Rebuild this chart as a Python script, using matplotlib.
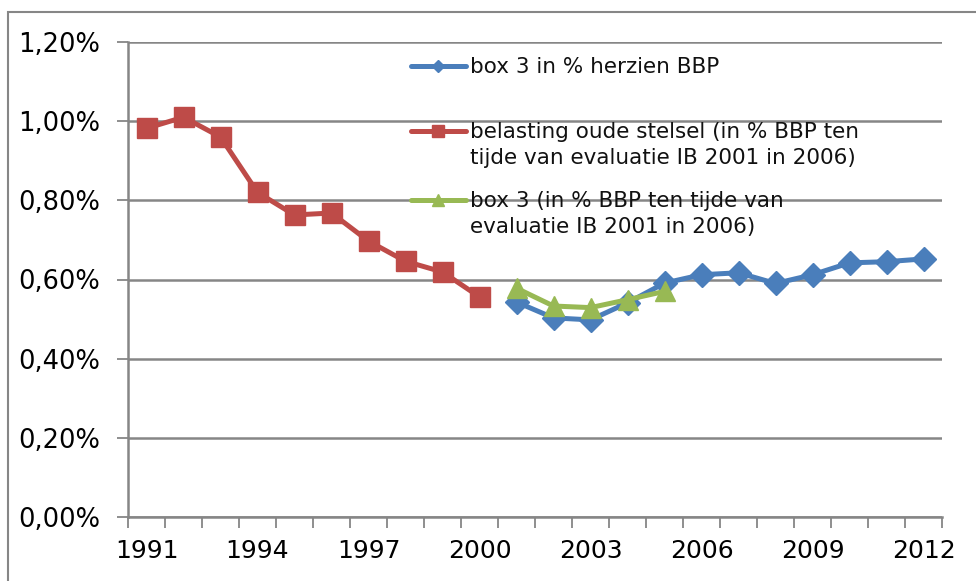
import numpy as np
import matplotlib
matplotlib.use("Agg")
import matplotlib.pyplot as plt
from matplotlib.lines import Line2D
from matplotlib.patches import Rectangle
from matplotlib.ticker import FuncFormatter

# jaren (categorie-as)
years = list(range(1991, 2013))
# belasting oude stelsel, 1991-2000 (in %)
oud_jaren = list(range(1991, 2001))
oud_stelsel = [0.982, 1.010, 0.960, 0.820, 0.763, 0.768, 0.697, 0.646, 0.619, 0.556]
# box 3 in % herzien BBP, 2001-2012
herzien_jaren = list(range(2001, 2013))
box3_herzien = [0.543, 0.503, 0.498, 0.541, 0.591, 0.612, 0.617, 0.590, 0.612, 0.642, 0.645, 0.652]
# box 3 (BBP ten tijde van evaluatie), 2001-2005
eval_jaren = list(range(2001, 2006))
box3_eval = [0.578, 0.533, 0.529, 0.549, 0.570]

labels = ['box 3 in % herzien BBP',
          'belasting oude stelsel (in % BBP ten\ntijde van evaluatie IB 2001 in 2006)',
          'box 3 (in % BBP ten tijde van\nevaluatie IB 2001 in 2006)']

blauw = '#4A7EBB'
rood = '#BE4B48'
groen = '#98B954'
grijs = '#868686'

plt.rcParams['font.family'] = ['DejaVu Sans']

fig = plt.figure(figsize=(9.76, 5.81), dpi=100)
ax = fig.add_axes([128 / 976, 1 - 517 / 581, (942 - 128) / 976, (517 - 42) / 581])

# rand om de grafiek
fig.patches.append(Rectangle((8 / 976, -0.1), 1.2, 1 - 12 / 581 + 0.1, transform=fig.transFigure,
                             fill=False, edgecolor=grijs, linewidth=1.5))

pos = {j: i for i, j in enumerate(years)}
ax.plot([pos[j] for j in oud_jaren], oud_stelsel, color=rood, lw=3.6,
        marker='s', markersize=15, zorder=3)
ax.plot([pos[j] for j in herzien_jaren], box3_herzien, color=blauw, lw=3.6,
        marker='D', markersize=12, zorder=3)
ax.plot([pos[j] for j in eval_jaren], box3_eval, color=groen, lw=3.6,
        marker='^', markersize=15, zorder=4)

ax.set_xlim(-0.5, len(years) - 0.5)
ax.set_ylim(0, 1.2)
ax.set_yticks(np.arange(0, 1.21, 0.2))
ax.yaxis.set_major_formatter(FuncFormatter(lambda v, p: ('%.2f%%' % v).replace('.', ',')))
ax.grid(True, axis='y', color=grijs, linewidth=1.8)
ax.set_axisbelow(True)

# tick-streepjes tussen de categorieen, labels elke 3 jaar
ax.set_xticks(np.arange(-0.5, len(years), 1.0))
ax.set_xticklabels([])
ax.set_xticks([pos[j] for j in years[::3]], minor=True)
ax.set_xticklabels([str(j) for j in years[::3]], minor=True)
ax.tick_params(axis='x', which='major', length=8, width=1.3, color=grijs, direction='out')
ax.tick_params(axis='x', which='minor', length=0, labelsize=18, pad=16)
ax.tick_params(axis='y', length=8, width=1.3, color=grijs, labelsize=18.5, pad=12)

for s in ['top', 'right']:
    ax.spines[s].set_visible(False)
for s in ['left', 'bottom']:
    ax.spines[s].set_color(grijs)
    ax.spines[s].set_linewidth(1.8)

# legenda handmatig
legend_y = [66, 131, 200]
for kleur, mk, ms, y, lab in zip([blauw, rood, groen], ['D', 's', '^'], [6, 9, 8], legend_y, labels):
    fy = 1 - y / 581
    fig.add_artist(Line2D([411 / 976, 466 / 976], [fy, fy], transform=fig.transFigure,
                          color=kleur, lw=3.6, solid_capstyle='round'))
    fig.add_artist(Line2D([438 / 976], [fy], transform=fig.transFigure, color=kleur,
                          marker=mk, markersize=ms, lw=0))
    fig.text(470 / 976, fy + 9 / 581, lab, fontsize=15.5, va='top', ha='left',
             linespacing=1.35, transform=fig.transFigure, color='#111111')

fig.savefig('out.png', dpi=100)
